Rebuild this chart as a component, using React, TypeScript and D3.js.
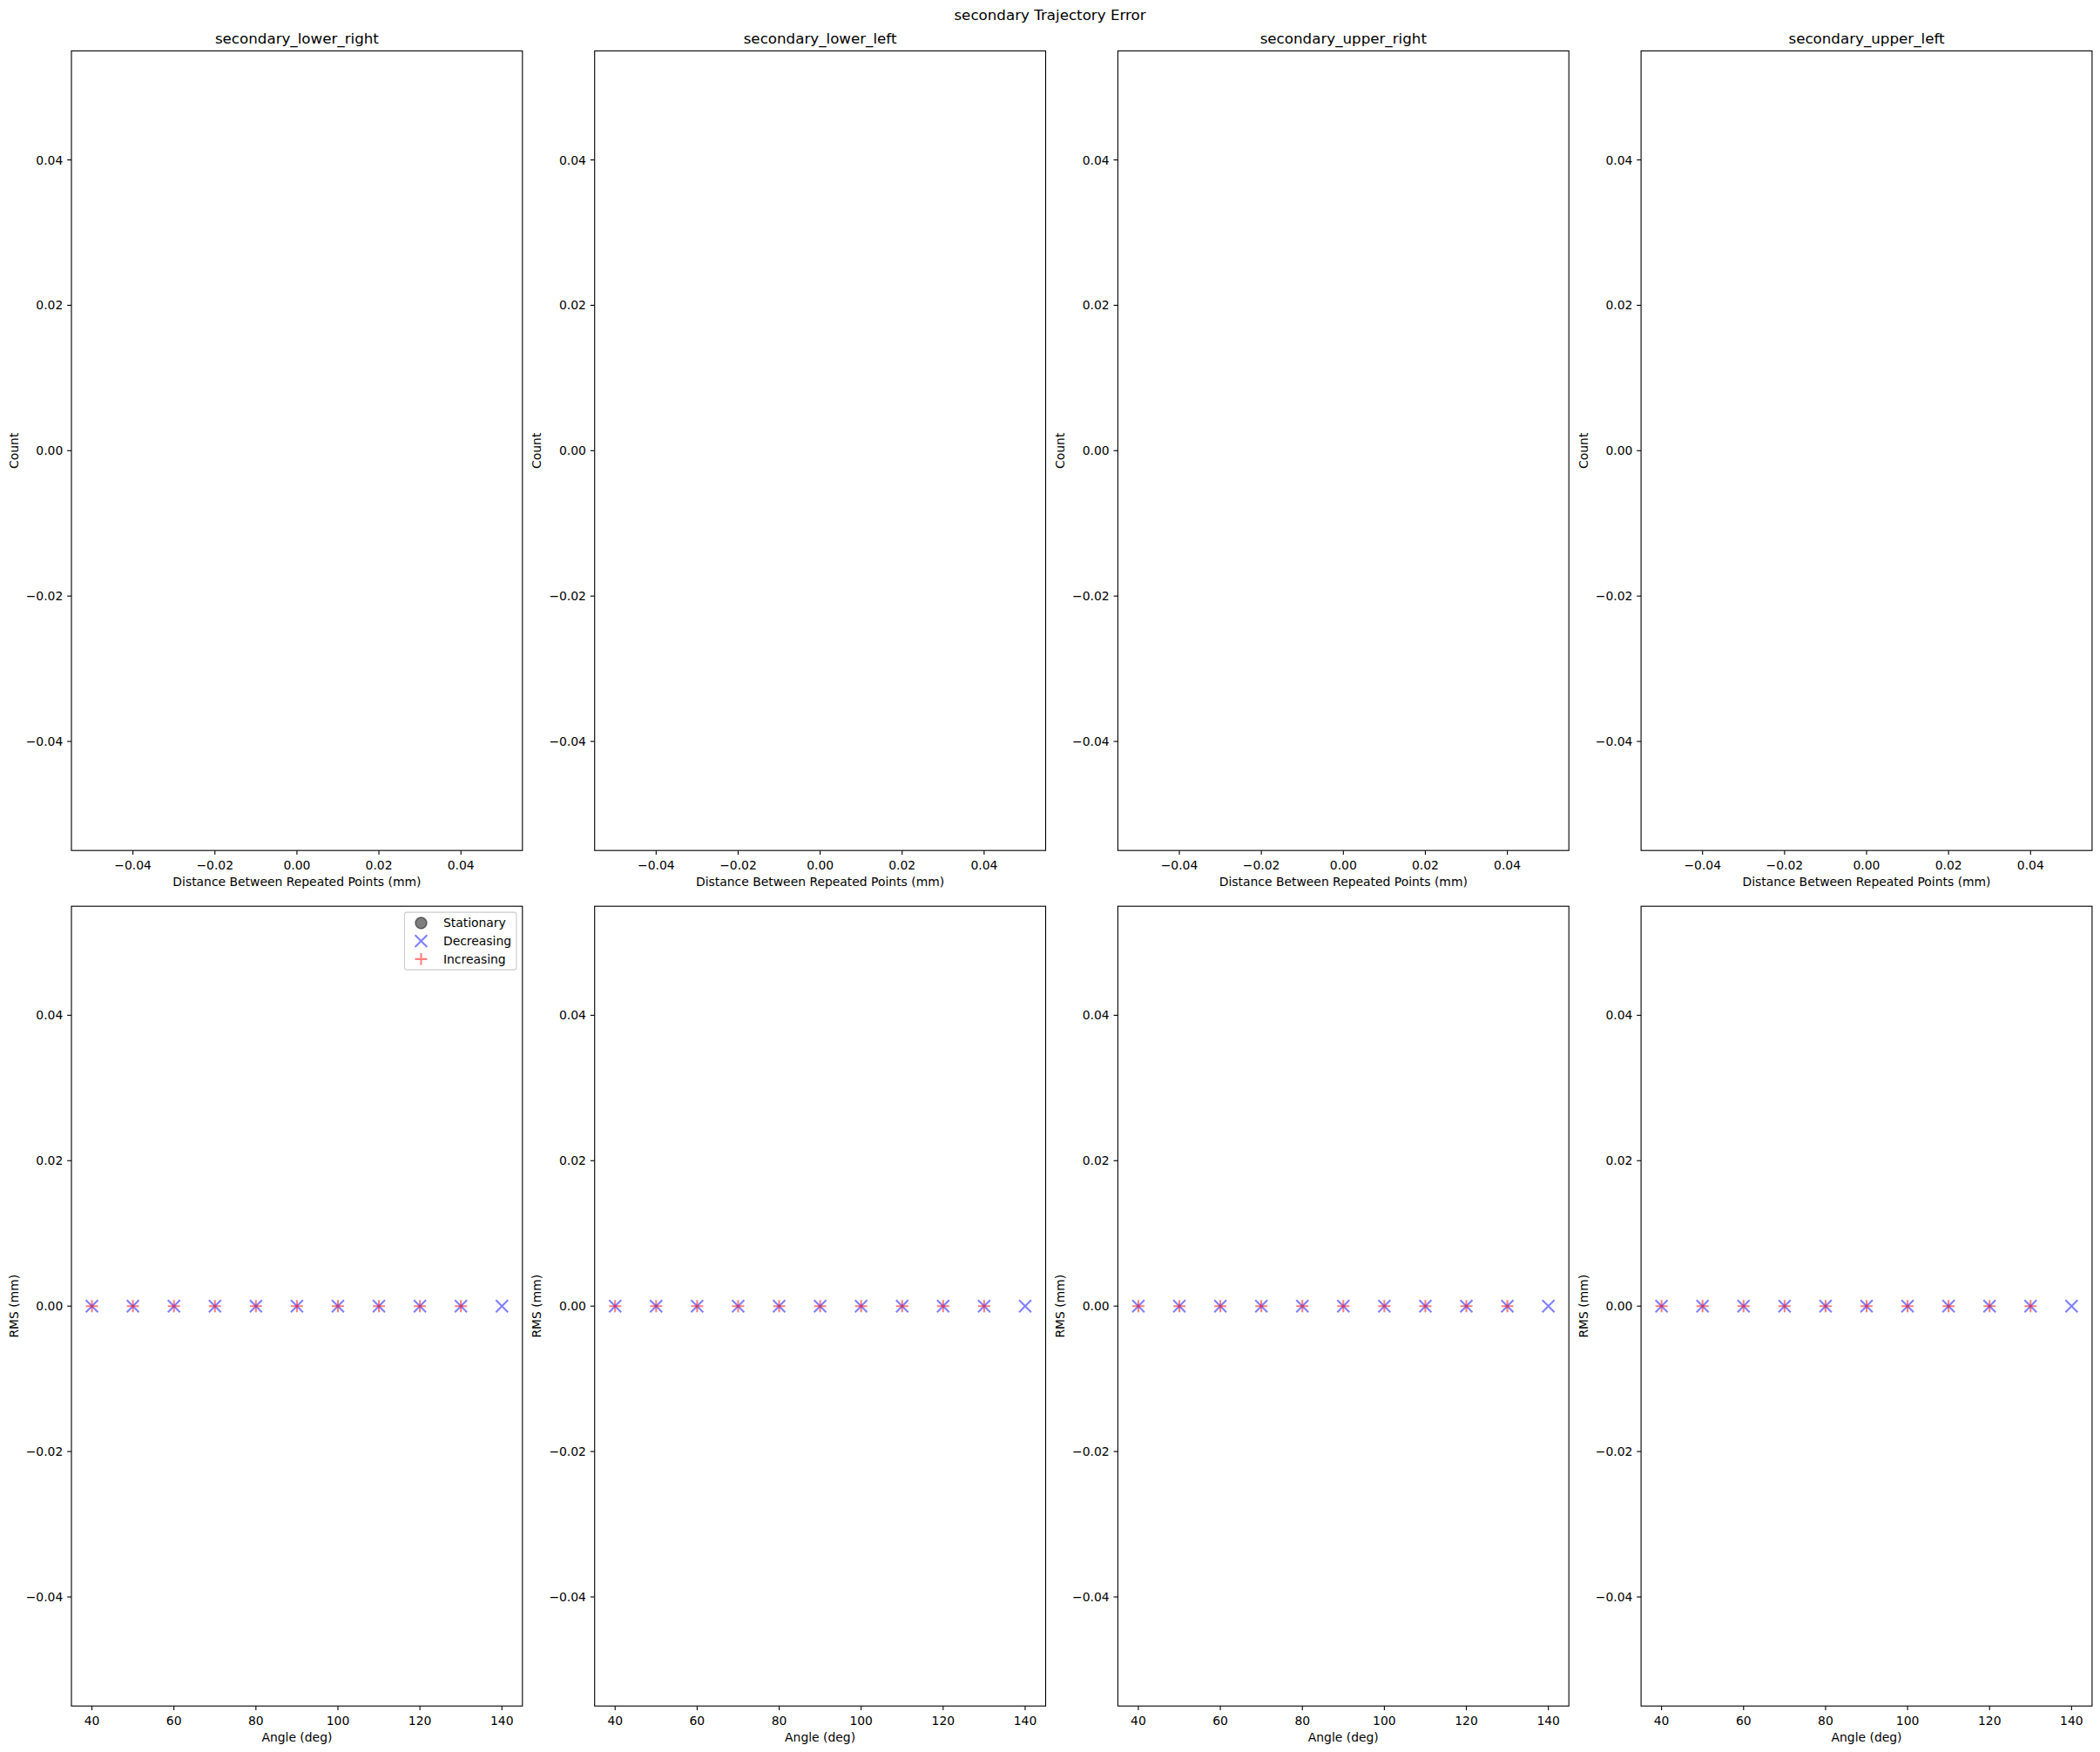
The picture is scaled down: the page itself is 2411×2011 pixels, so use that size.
import React, { useEffect } from "react";
import * as d3 from "d3";

const suptitle = "secondary Trajectory Error";
const panelNames = [
  "secondary_lower_right",
  "secondary_lower_left",
  "secondary_upper_right",
  "secondary_upper_left",
];
const histXTicks = [-0.04, -0.02, 0.0, 0.02, 0.04];
const histYTicks = [-0.04, -0.02, 0.0, 0.02, 0.04];
const rmsYTicks = [-0.04, -0.02, 0.0, 0.02, 0.04];
const angleTicks = [40, 60, 80, 100, 120, 140];

// scatter series (same for each panel)
const stationaryAngles: number[] = [];
const stationaryRms: number[] = [];
const decreasingAngles = [40, 50, 60, 70, 80, 90, 100, 110, 120, 130, 140];
const decreasingRms = [0, 0, 0, 0, 0, 0, 0, 0, 0, 0, 0];
const increasingAngles = [40, 50, 60, 70, 80, 90, 100, 110, 120, 130];
const increasingRms = [0, 0, 0, 0, 0, 0, 0, 0, 0, 0];

const legendItems = ["Stationary", "Decreasing", "Increasing"];

const W = 2411;
const H = 2011;
const FONT = "DejaVu Sans, sans-serif";
const FS = 13.9;
const TFS = 16.7;
const panelLeft0 = 82.0;
const panelStep = 600.7;
const panelW = 517.8;
const topRow = { y0: 58.4, y1: 976.2 };
const botRow = { y0: 1040.2, y1: 1958.2 };
const tickLen = 4.86;
const tickPad = 4.86;

const fmt2 = d3.format(".2f");
const fmt0 = d3.format("d");

function Frame({ x0, x1, y0, y1 }: any) {
  return (
    <rect x={x0} y={y0} width={x1 - x0} height={y1 - y0} fill="none" stroke="#000" strokeWidth={1.11} />
  );
}

function XAxis({ scale, ticks, y, fmt, label }: any) {
  return (
    <g>
      {ticks.map((t: number) => (
        <g key={t}>
          <line x1={scale(t)} x2={scale(t)} y1={y} y2={y + tickLen} stroke="#000" strokeWidth={1.11} />
          <text x={scale(t)} y={y + 21.5} textAnchor="middle" fontSize={FS} fontFamily={FONT} fill="#000">
            {fmt(t)}
          </text>
        </g>
      ))}
      <text
        x={(scale.range()[0] + scale.range()[1]) / 2}
        y={y + 41}
        textAnchor="middle"
        fontSize={FS}
        fontFamily={FONT}
        fill="#000"
      >
        {label}
      </text>
    </g>
  );
}

function YAxis({ scale, ticks, x, fmt, label }: any) {
  const r = scale.range();
  const cy = (r[0] + r[1]) / 2;
  return (
    <g>
      {ticks.map((t: number) => (
        <g key={t}>
          <line x1={x - tickLen} x2={x} y1={scale(t)} y2={scale(t)} stroke="#000" strokeWidth={1.11} />
          <text
            x={x - tickLen - tickPad}
            y={scale(t) + 5}
            textAnchor="end"
            fontSize={FS}
            fontFamily={FONT}
            fill="#000"
          >
            {fmt(t)}
          </text>
        </g>
      ))}
      <text
        transform={`translate(${x - 61.5},${cy}) rotate(-90)`}
        textAnchor="middle"
        fontSize={FS}
        fontFamily={FONT}
        fill="#000"
      >
        {label}
      </text>
    </g>
  );
}

const MS = 13.9; // marker size px
const half = MS / 2;

function XMark({ x, y }: any) {
  return (
    <path
      d={`M${x - half},${y - half}L${x + half},${y + half}M${x - half},${y + half}L${x + half},${y - half}`}
      stroke="#0000ff"
      strokeOpacity={0.5}
      strokeWidth={2.08}
      fill="none"
    />
  );
}
function PlusMark({ x, y }: any) {
  return (
    <path
      d={`M${x - half},${y}L${x + half},${y}M${x},${y - half}L${x},${y + half}`}
      stroke="#ff0000"
      strokeOpacity={0.5}
      strokeWidth={2.08}
      fill="none"
    />
  );
}
function CircleMark({ x, y }: any) {
  return (
    <circle
      cx={x}
      cy={y}
      r={half - 0.5}
      fill="#000"
      fillOpacity={0.5}
      stroke="#000"
      strokeOpacity={0.5}
      strokeWidth={1.5}
    />
  );
}

function Legend({ right, top }: any) {
  const w = 128.4;
  const h = 66;
  const left = right - w;
  const rowY = [top + 12.3, top + 33, top + 53.7];
  const hx = left + 19;
  const tx = left + 44.5;
  return (
    <g>
      <rect x={left} y={top} width={w} height={h} rx={2.8} fill="#fff" fillOpacity={0.8} stroke="#cccccc" strokeWidth={1.11} />
      <CircleMark x={hx} y={rowY[0]} />
      <XMark x={hx} y={rowY[1]} />
      <PlusMark x={hx} y={rowY[2]} />
      {legendItems.map((s, i) => (
        <text key={s} x={tx} y={rowY[i] + 5} fontSize={FS} fontFamily={FONT} fill="#000">
          {s}
        </text>
      ))}
    </g>
  );
}

export default function App() {
  useEffect(() => {
    document.body.style.margin = "0";
  }, []);

  return (
    <svg width={W} height={H} style={{ display: "block", background: "#fff" }}>
      <rect x={0} y={0} width={W} height={H} fill="#fff" />
      <text x={W / 2} y={23} textAnchor="middle" fontSize={TFS} fontFamily={FONT} fill="#000">
        {suptitle}
      </text>
      {panelNames.map((name, i) => {
        const x0 = panelLeft0 + panelStep * i;
        const x1 = x0 + panelW;
        const hx = d3.scaleLinear().domain([-0.055, 0.055]).range([x0, x1]);
        const hy = d3.scaleLinear().domain([-0.055, 0.055]).range([topRow.y1, topRow.y0]);
        const ax = d3.scaleLinear().domain([35, 145]).range([x0, x1]);
        const ay = d3.scaleLinear().domain([-0.055, 0.055]).range([botRow.y1, botRow.y0]);
        return (
          <g key={name}>
            {/* top: histogram panel (empty) */}
            <text x={(x0 + x1) / 2} y={topRow.y0 - 8.3} textAnchor="middle" fontSize={TFS} fontFamily={FONT} fill="#000">
              {name}
            </text>
            <XAxis scale={hx} ticks={histXTicks} y={topRow.y1} fmt={fmt2} label="Distance Between Repeated Points (mm)" />
            <YAxis scale={hy} ticks={histYTicks} x={x0} fmt={fmt2} label="Count" />
            <Frame x0={x0} x1={x1} y0={topRow.y0} y1={topRow.y1} />

            {/* bottom: RMS scatter */}
            {stationaryAngles.map((a, k) => (
              <CircleMark key={"s" + k} x={ax(a)} y={ay(stationaryRms[k])} />
            ))}
            {decreasingAngles.map((a, k) => (
              <XMark key={"d" + k} x={ax(a)} y={ay(decreasingRms[k])} />
            ))}
            {increasingAngles.map((a, k) => (
              <PlusMark key={"p" + k} x={ax(a)} y={ay(increasingRms[k])} />
            ))}
            <XAxis scale={ax} ticks={angleTicks} y={botRow.y1} fmt={fmt0} label="Angle (deg)" />
            <YAxis scale={ay} ticks={rmsYTicks} x={x0} fmt={fmt2} label="RMS (mm)" />
            <Frame x0={x0} x1={x1} y0={botRow.y0} y1={botRow.y1} />
            {i === 0 && <Legend right={x1 - 6.95} top={botRow.y0 + 6.95} />}
          </g>
        );
      })}
    </svg>
  );
}
